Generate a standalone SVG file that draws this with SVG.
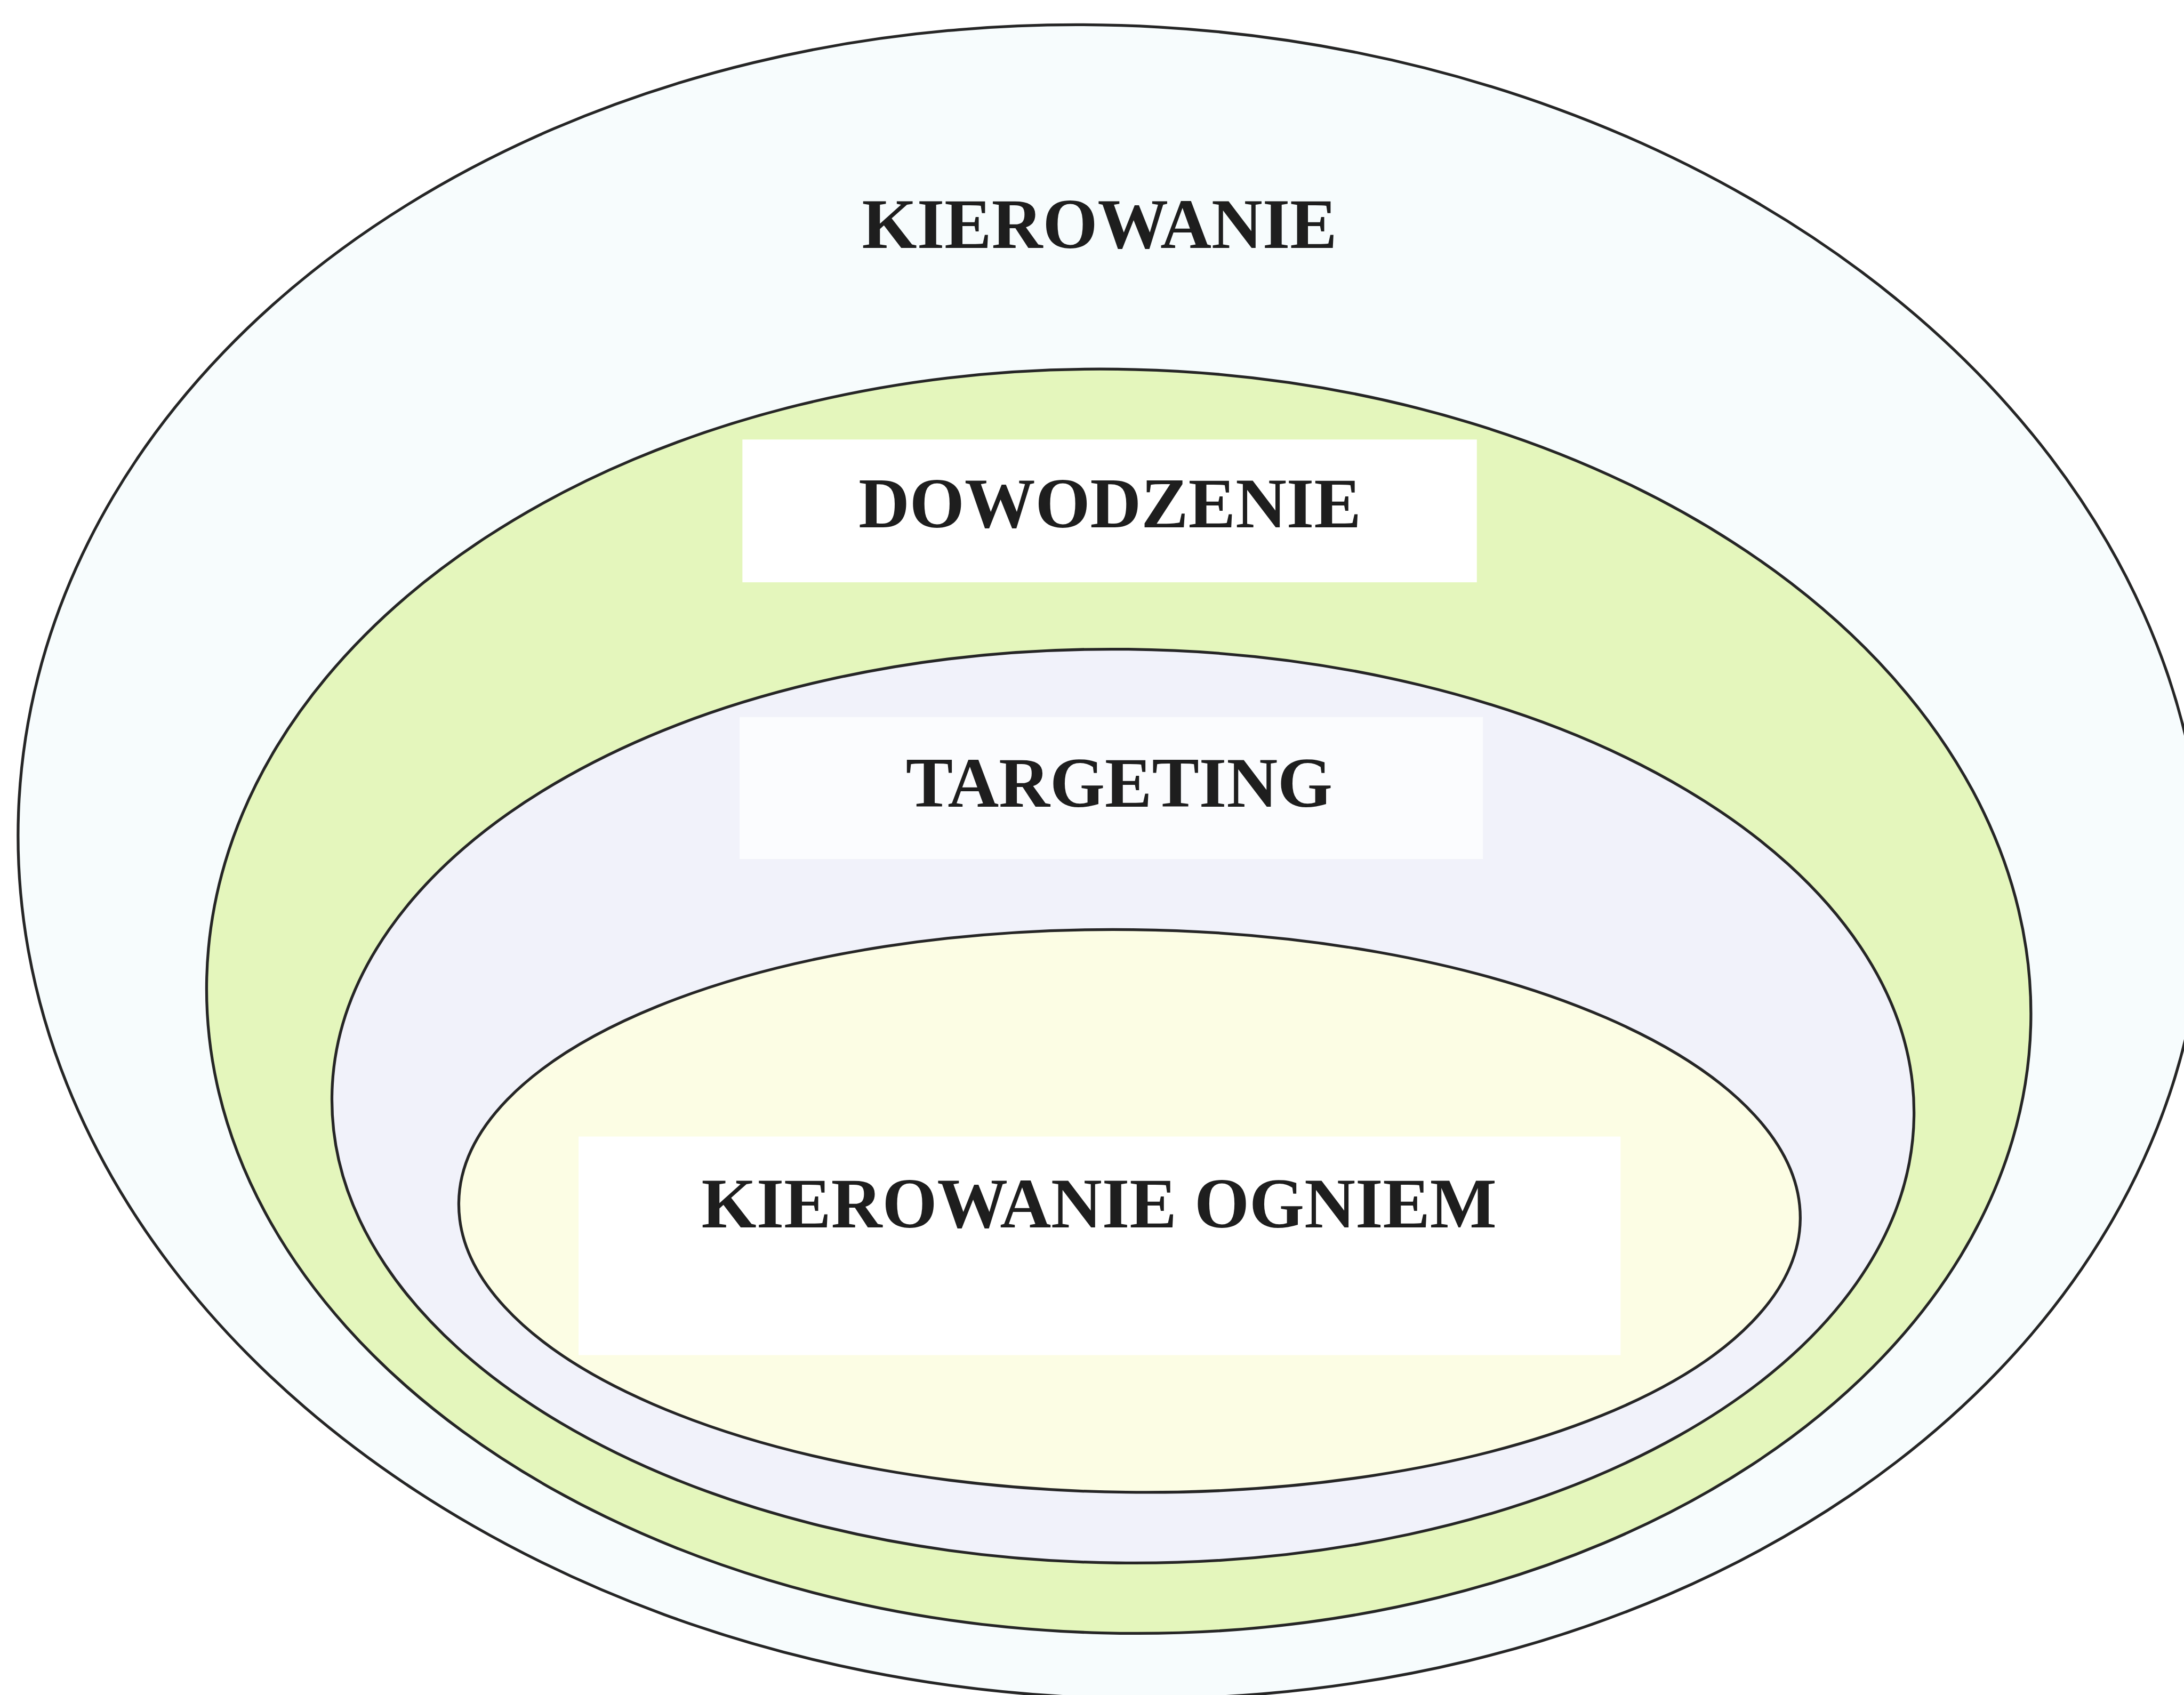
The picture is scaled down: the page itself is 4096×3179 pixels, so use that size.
<svg xmlns="http://www.w3.org/2000/svg" width="4096" height="3179" viewBox="0 0 4096 3179">
  <style>
    .ring { stroke: #262626; stroke-width: 6; }
    .label { font-family: "Liberation Serif", "Times New Roman", serif; font-weight: bold; font-size: 151px; fill: #1e1e1e; text-anchor: middle; }
    .pad { fill: #ffffff; }
    .pad-soft { fill: #fbfcfe; }
  </style>
  <rect x="0" y="0" width="4096" height="3179" fill="#ffffff"/>
  <g transform="scale(0.8779)">
    <!-- outermost level -->
    <g id="kierowanie">
      <ellipse class="ring" cx="2373" cy="1841" rx="2336" ry="1786" fill="#f7fcfd" transform="rotate(3.3 2373 1841)"/>
      <text class="label" x="2349" y="530">KIEROWANIE</text>
    </g>
    <!-- command level -->
    <g id="dowodzenie">
      <ellipse class="ring" cx="2390" cy="2139" rx="1949" ry="1350" fill="#e4f6bc" transform="rotate(1.5 2390 2139)"/>
      <rect class="pad" x="1586" y="939" width="1569" height="305"/>
      <text class="label" x="2371" y="1127">DOWODZENIE</text>
    </g>
    <!-- targeting level -->
    <g id="targeting">
      <ellipse class="ring" cx="2399" cy="2363" rx="1690" ry="976" fill="#f1f2fa" transform="rotate(0.7 2399 2363)"/>
      <rect class="pad-soft" x="1580" y="1532" width="1588" height="303"/>
      <text class="label" x="2391" y="1723">TARGETING</text>
    </g>
    <!-- fire control level -->
    <g id="kierowanie-ogniem">
      <ellipse class="ring" cx="2413" cy="2587" rx="1433" ry="601" fill="#fcfde4" transform="rotate(0.7 2413 2587)"/>
      <rect class="pad" x="1236" y="2428" width="2226" height="467"/>
      <text class="label" x="2348" y="2622">KIEROWANIE OGNIEM</text>
    </g>
  </g>
</svg>
